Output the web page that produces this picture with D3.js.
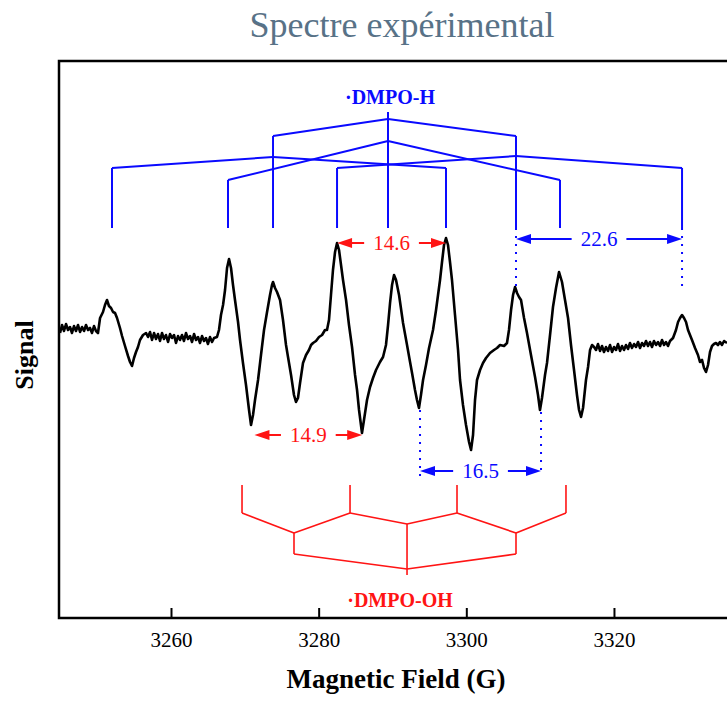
<!DOCTYPE html>
<html>
<head>
<meta charset="utf-8">
<script src="https://cdn.jsdelivr.net/npm/d3@7/dist/d3.min.js"></script>
<style>
  html, body { margin: 0; padding: 0; background: #fff; }
  svg { display: block; }
</style>
</head>
<body>
<svg id="chart" width="727" height="701"></svg>
<script>
// ---------------- DATA ----------------
const title = "Spectre expérimental";
const xLabel = "Magnetic Field (G)";
const yLabel = "Signal";
const xTicks = [3260, 3280, 3300, 3320];

// experimental EPR spectrum (field in G, signal in a.u.)
const field = [3244.97,3245.24,3245.51,3245.78,3246.05,3246.32,3246.59,3246.86,3247.13,3247.41,3247.68,3247.95,3248.22,3248.49,3248.76,3249.03,3249.30,3249.57,3249.84,3250.11,
3250.39,3250.79,3251.06,3251.33,3251.60,3251.88,3252.15,3252.42,3252.69,3253.09,3253.37,3253.77,3254.18,3254.45,3254.72,3254.99,3255.26,3255.53,3255.80,3256.21,
3256.62,3256.89,3257.16,3257.43,3257.70,3257.97,3258.24,3258.51,3258.78,3259.05,3259.32,3259.60,3259.87,3260.14,3260.41,3260.68,3260.95,3261.22,3261.49,3261.76,
3262.03,3262.30,3262.58,3262.85,3263.12,3263.39,3263.66,3263.93,3264.20,3264.47,3264.74,3265.01,3265.28,3265.56,3265.83,3266.23,3266.50,3266.77,3267.05,3267.32,
3267.59,3267.86,3268.13,3268.40,3268.67,3269.08,3269.35,3269.75,3270.16,3270.57,3270.84,3271.11,3271.38,3271.79,3272.19,3272.60,3273.01,3273.41,3273.68,3273.82,
3274.09,3274.36,3274.77,3275.17,3275.58,3275.85,3276.26,3276.66,3276.93,3277.20,3277.48,3277.88,3278.29,3278.69,3278.97,3279.24,3279.64,3280.05,3280.46,3280.86,
3281.13,3281.40,3281.67,3281.94,3282.22,3282.49,3282.76,3283.03,3283.30,3283.71,3284.11,3284.52,3284.93,3285.20,3285.47,3285.87,3286.14,3286.55,3286.96,3287.36,
3287.77,3288.31,3288.72,3289.12,3289.40,3289.67,3289.94,3290.21,3290.48,3290.89,3291.43,3291.97,3292.38,3292.65,3293.05,3293.32,3293.59,3293.86,3294.14,3294.54,
3294.95,3295.49,3295.90,3296.17,3296.44,3296.71,3296.98,3297.25,3297.52,3297.79,3298.06,3298.47,3298.88,3299.15,3299.55,3299.96,3300.37,3300.64,3300.91,3301.18,
3301.45,3301.86,3302.26,3302.67,3303.21,3303.75,3304.16,3304.57,3305.11,3305.51,3305.78,3306.06,3306.33,3306.60,3306.87,3307.14,3307.41,3307.82,3308.22,3308.76,
3309.31,3309.71,3309.98,3310.25,3310.66,3310.93,3311.34,3311.74,3312.15,3312.56,3312.96,3313.37,3313.78,3314.18,3314.59,3314.99,3315.27,3315.54,3315.81,3316.21,
3316.49,3316.76,3317.03,3317.30,3317.57,3317.84,3318.11,3318.38,3318.65,3318.92,3319.19,3319.47,3319.74,3320.01,3320.28,3320.55,3320.82,3321.09,3321.36,3321.63,
3321.90,3322.17,3322.44,3322.72,3322.99,3323.26,3323.53,3323.80,3324.07,3324.34,3324.61,3324.88,3325.15,3325.42,3325.70,3325.97,3326.24,3326.51,3326.78,3327.05,
3327.32,3327.59,3328.00,3328.40,3328.68,3328.95,3329.22,3329.49,3329.76,3330.03,3330.30,3330.57,3330.98,3331.38,3331.65,3331.93,3332.20,3332.47,3332.74,3333.01,
3333.28,3333.55,3333.82,3334.09,3334.36,3334.63,3334.91,3335.31];
const signal = [7,15,9,16,10,13,7,14,9,15,8,13,9,15,10,12,7,14,9,7,
22,28,35,40,34,32,28,27,22,12,4,-6,-16,-22,-26,-18,-12,-7,0,5,
7,3,8,0,7,1,6,-1,7,1,5,-2,6,2,5,-3,4,0,5,-1,
7,1,4,-2,6,0,3,-3,4,-1,2,-4,3,-2,2,3,10,25,35,50,
72,81,72,55,40,18,0,-23,-45,-70,-85,-75,-60,-40,-15,10,28,45,55,58,
52,48,40,20,-5,-17,-35,-55,-62,-58,-43,-23,-15,-10,-5,-3,-1,3,5,10,
10,20,45,70,88,97,90,75,60,40,15,-7,-35,-50,-70,-93,-80,-60,-47,-38,
-30,-22,-17,-5,15,37,55,65,60,45,17,-5,-22,-33,-50,-60,-68,-55,-40,-25,
-8,10,30,45,60,78,95,102,95,78,60,25,-10,-40,-65,-85,-102,-110,-95,-60,
-40,-30,-23,-18,-13,-10,-8,-5,-6,-3,10,30,45,53,47,43,40,22,7,-15,
-37,-55,-70,-58,-35,-23,5,33,52,68,58,40,22,-5,-30,-55,-70,-77,-68,-40,
-27,-10,-5,-7,-10,-4,-11,-6,-12,-7,-11,-5,-12,-7,-10,-4,-11,-6,-10,-5,
-9,-3,-8,-4,-7,-2,-8,-3,-6,-1,-6,-2,-7,-1,-5,-2,-6,0,-5,-2,
-6,-1,2,10,18,22,25,22,18,10,5,0,-8,-15,-22,-20,-28,-32,-25,-12,
-6,-4,-3,-5,-2,-5,-1,-3];

// ·DMPO-H stick diagram (aN = 16.5 G, aH = 22.6 G)
const hLabel = "·DMPO-H";
const hCenters = [3273.82, 3289.39, 3306.73];            // N triplet
const hChildren = [[3252.01, 3297.25], [3267.72, 3312.69], [3282.49, 3329.22]]; // H splitting
const hLevels = { top: 228, root: 221, first: 204, junction: [183, 199, 184], leaf: [172, 160, 172], bottom: 112, label: 236 };

// ·DMPO-OH stick diagram (aN ≈ aH ≈ 14.9 G)
const ohLabel = "·DMPO-OH";
const ohSticks = [3269.62, 3284.25, 3298.74, 3313.50];
const ohCenters = [3276.66, 3291.97, 3306.73];
const ohLevels = { top: -145, junction: -173, node: [-193, -184, -193], lower: -214, root: -229, bottom: -235, label: -267 };

// splitting measurements
const dims = [
  { label: "14.6", x1: 3282.49, x2: 3297.25, s: 97,   color: "red" },
  { label: "14.9", x1: 3271.30, x2: 3285.90, s: -95,  color: "red" },
  { label: "16.5", x1: 3293.73, x2: 3310.12, s: -131, color: "blue" },
  { label: "22.6", x1: 3306.73, x2: 3329.22, s: 101,  color: "blue" }
];
const dotted = [
  { x: 3306.73, s1: 112, s2: 48 },
  { x: 3329.22, s1: 112, s2: 52 },
  { x: 3293.73, s1: -70, s2: -140 },
  { x: 3310.12, s1: -72, s2: -134 }
];

// ---------------- DRAW ----------------
const BLUE = "#0a0aff", RED = "#ff1414";
const svg = d3.select("#chart");
const L = 59, T = 61, B = 618, R = 760;
const x = d3.scaleLinear().domain([3244.83, 3339.78]).range([L, R]);
const y = d3.scaleLinear().domain([-278, 279]).range([B, T]);
const serif = "'Liberation Serif', 'Times New Roman', serif";

svg.append("defs").append("clipPath").attr("id", "clip")
  .append("rect").attr("x", L).attr("y", T).attr("width", R - L).attr("height", B - T);

// title
svg.append("text").attr("x", 402).attr("y", 37).attr("text-anchor", "middle")
  .attr("font-family", serif).attr("font-size", 36).attr("fill", "#587287").text(title);

// spectrum
const pts = field.map((f, i) => [f, signal[i]]);
svg.append("path").datum(pts).attr("clip-path", "url(#clip)")
  .attr("fill", "none").attr("stroke", "#000").attr("stroke-width", 2.6).attr("stroke-linejoin", "round")
  .attr("d", d3.line().x(d => x(d[0])).y(d => y(d[1])));

// helper to draw a segment in data units
function seg(g, f1, s1, f2, s2) {
  g.append("line").attr("x1", x(f1)).attr("y1", y(s1)).attr("x2", x(f2)).attr("y2", y(s2));
}

// DMPO-H tree
const gh = svg.append("g").attr("stroke", BLUE).attr("stroke-width", 2).attr("fill", "none");
const hc = hCenters[1];
seg(gh, hc, hLevels.top, hc, hLevels.bottom);
seg(gh, hc, hLevels.root, hCenters[0], hLevels.first);
seg(gh, hc, hLevels.root, hCenters[2], hLevels.first);
seg(gh, hCenters[0], hLevels.first, hCenters[0], hLevels.bottom);
seg(gh, hCenters[2], hLevels.first, hCenters[2], hLevels.bottom);
hCenters.forEach((c, i) => {
  hChildren[i].forEach(ch => {
    seg(gh, c, hLevels.junction[i], ch, hLevels.leaf[i]);
    seg(gh, ch, hLevels.leaf[i], ch, hLevels.bottom);
  });
});
svg.append("text").attr("x", x(hc) + 2).attr("y", y(hLevels.label)).attr("text-anchor", "middle")
  .attr("font-family", serif).attr("font-weight", "bold").attr("font-size", 20).attr("fill", BLUE).text(hLabel);

// DMPO-OH tree
const go = svg.append("g").attr("stroke", RED).attr("stroke-width", 1.6).attr("fill", "none");
ohSticks.forEach(s => seg(go, s, ohLevels.top, s, ohLevels.junction));
ohCenters.forEach((c, j) => {
  seg(go, ohSticks[j], ohLevels.junction, c, ohLevels.node[j]);
  seg(go, ohSticks[j + 1], ohLevels.junction, c, ohLevels.node[j]);
});
seg(go, ohCenters[0], ohLevels.node[0], ohCenters[0], ohLevels.lower);
seg(go, ohCenters[2], ohLevels.node[2], ohCenters[2], ohLevels.lower);
seg(go, ohCenters[1], ohLevels.node[1], ohCenters[1], ohLevels.bottom);
seg(go, ohCenters[0], ohLevels.lower, ohCenters[1], ohLevels.root);
seg(go, ohCenters[2], ohLevels.lower, ohCenters[1], ohLevels.root);
svg.append("text").attr("x", x(ohCenters[1]) - 7).attr("y", y(ohLevels.label)).attr("text-anchor", "middle")
  .attr("font-family", serif).attr("font-weight", "bold").attr("font-size", 20).attr("fill", RED).text(ohLabel);

// dotted guides
dotted.forEach(d => {
  svg.append("line").attr("x1", x(d.x)).attr("x2", x(d.x)).attr("y1", y(d.s1)).attr("y2", y(d.s2))
    .attr("stroke", BLUE).attr("stroke-width", 2).attr("stroke-dasharray", "2,6");
});

// dimension arrows
dims.forEach(d => {
  const col = d.color === "red" ? RED : BLUE;
  const xa = x(d.x1), xb = x(d.x2), yy = y(d.s), xm = (xa + xb) / 2;
  const t = svg.append("text").attr("x", xm).attr("y", yy + 7).attr("text-anchor", "middle")
    .attr("font-family", serif).attr("font-size", 21).attr("fill", col).text(d.label);
  const hw = t.node().getComputedTextLength() / 2 + 9;
  const g = svg.append("g").attr("stroke", col).attr("stroke-width", 2);
  g.append("line").attr("x1", xa + 8).attr("x2", xm - hw).attr("y1", yy).attr("y2", yy);
  g.append("line").attr("x1", xm + hw).attr("x2", xb - 8).attr("y1", yy).attr("y2", yy);
  svg.append("path").attr("fill", col)
    .attr("d", `M${xa},${yy} L${xa + 15},${yy - 5} L${xa + 15},${yy + 5} Z`);
  svg.append("path").attr("fill", col)
    .attr("d", `M${xb},${yy} L${xb - 15},${yy - 5} L${xb - 15},${yy + 5} Z`);
});

// frame
svg.append("rect").attr("x", L).attr("y", T).attr("width", R - L).attr("height", B - T)
  .attr("fill", "none").attr("stroke", "#000").attr("stroke-width", 2.5);

// x axis ticks (inward) and labels
const xAxis = d3.axisBottom(x).tickValues(xTicks).tickSizeInner(-10).tickSizeOuter(0).tickPadding(14)
  .tickFormat(d3.format("d"));
const ax = svg.append("g").attr("transform", `translate(0,${B})`).call(xAxis);
ax.attr("font-family", serif);
ax.select(".domain").remove();
ax.selectAll(".tick line").attr("stroke", "#000").attr("stroke-width", 2);
ax.selectAll(".tick text").attr("font-family", serif).attr("font-size", 21).attr("fill", "#000");

// axis labels
svg.append("text").attr("x", 396).attr("y", 688).attr("text-anchor", "middle")
  .attr("font-family", serif).attr("font-weight", "bold").attr("font-size", 27).text(xLabel);
svg.append("text").attr("transform", "translate(33,355) rotate(-90)").attr("text-anchor", "middle")
  .attr("font-family", serif).attr("font-weight", "bold").attr("font-size", 26).text(yLabel);
</script>
</body>
</html>
